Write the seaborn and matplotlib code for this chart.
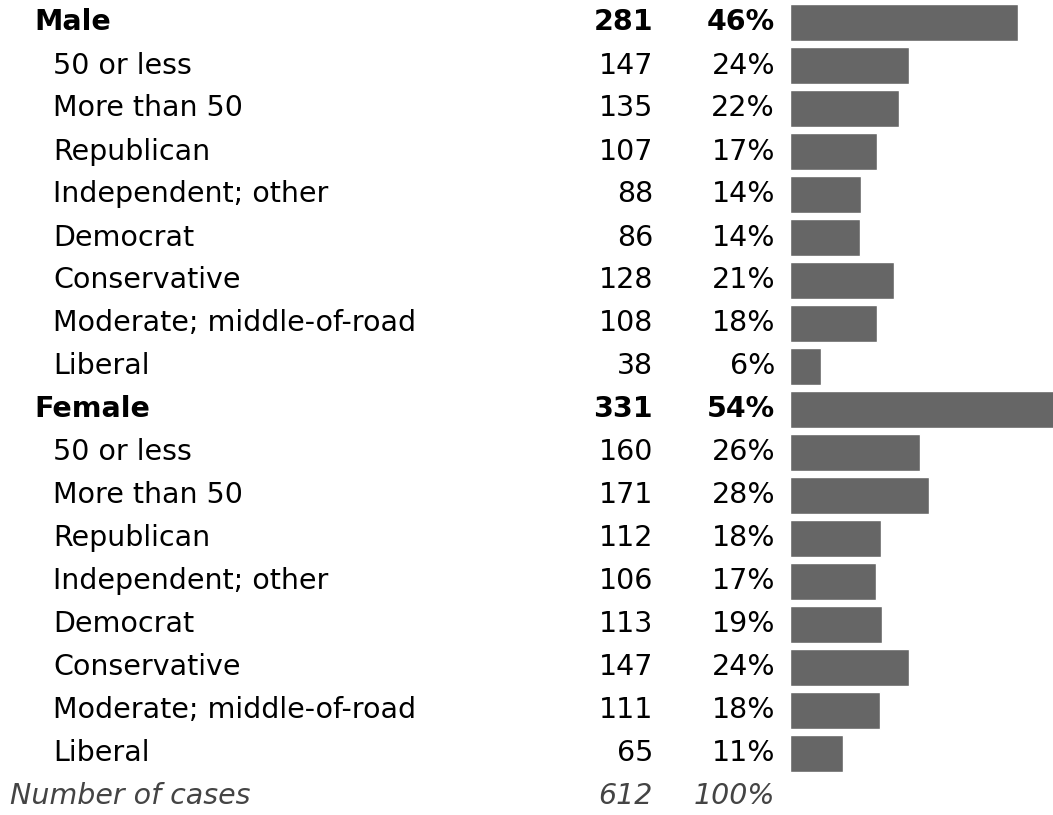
import matplotlib
matplotlib.use("Agg")
import matplotlib.pyplot as plt
import seaborn as sns
import pandas as pd

labels = ["Male", "50 or less", "More than 50", "Republican", "Independent; other",
          "Democrat", "Conservative", "Moderate; middle-of-road", "Liberal",
          "Female", "50 or less", "More than 50", "Republican", "Independent; other",
          "Democrat", "Conservative", "Moderate; middle-of-road", "Liberal"]
counts = [281, 147, 135, 107, 88, 86, 128, 108, 38,
          331, 160, 171, 112, 106, 113, 147, 111, 65]
percents = ["46%", "24%", "22%", "17%", "14%", "14%", "21%", "18%", "6%",
            "54%", "26%", "28%", "18%", "17%", "19%", "24%", "18%", "11%"]
is_heading = [True] + [False] * 8 + [True] + [False] * 8
total_label = "Number of cases"
total_count = "612"
total_pct = "100%"

sns.set_theme(style="white")
plt.rcParams['font.family'] = ['DejaVu Sans']

W, H = 1053, 815
fig = plt.figure(figsize=(W / 100, H / 100), dpi=100)
ax = fig.add_axes([0, 0, 1, 1])

df = pd.DataFrame({"row": [str(i) for i in range(len(counts))], "count": counts})
sns.barplot(data=df, x="count", y="row", orient="h", color="#666666",
            saturation=1, width=0.88, ax=ax, order=df["row"].tolist())

px_per_unit = 0.81
x0 = 790
ax.set_xlim(-x0 / px_per_unit, (W - x0) / px_per_unit)
row_h = 43.0
top_c = 22.5
ax.set_ylim((H - top_c) / row_h, -top_c / row_h)
ax.axis("off")

tr = ax.get_yaxis_transform()
fs = 20.5
num_x = 653
pct_x = 775
for i, (lab, c, p, hd) in enumerate(zip(labels, counts, percents, is_heading)):
    w = "bold" if hd else "normal"
    lx = 34 if hd else 53
    ax.text(lx / W, i, lab, transform=tr, ha="left", va="center", fontsize=fs,
            fontweight=w, color="black")
    ax.text(num_x / W, i, str(c), transform=tr, ha="right", va="center", fontsize=fs,
            fontweight=w, color="black")
    ax.text(pct_x / W, i, p, transform=tr, ha="right", va="center", fontsize=fs,
            fontweight=w, color="black")

n = len(counts)
ax.text(10 / W, n, total_label, transform=tr, ha="left", va="center", fontsize=fs,
        style="italic", color="#444444")
ax.text(num_x / W, n, total_count, transform=tr, ha="right", va="center", fontsize=fs,
        style="italic", color="#444444")
ax.text(pct_x / W, n, total_pct, transform=tr, ha="right", va="center", fontsize=fs,
        style="italic", color="#444444")

fig.savefig("out.png", dpi=100)
